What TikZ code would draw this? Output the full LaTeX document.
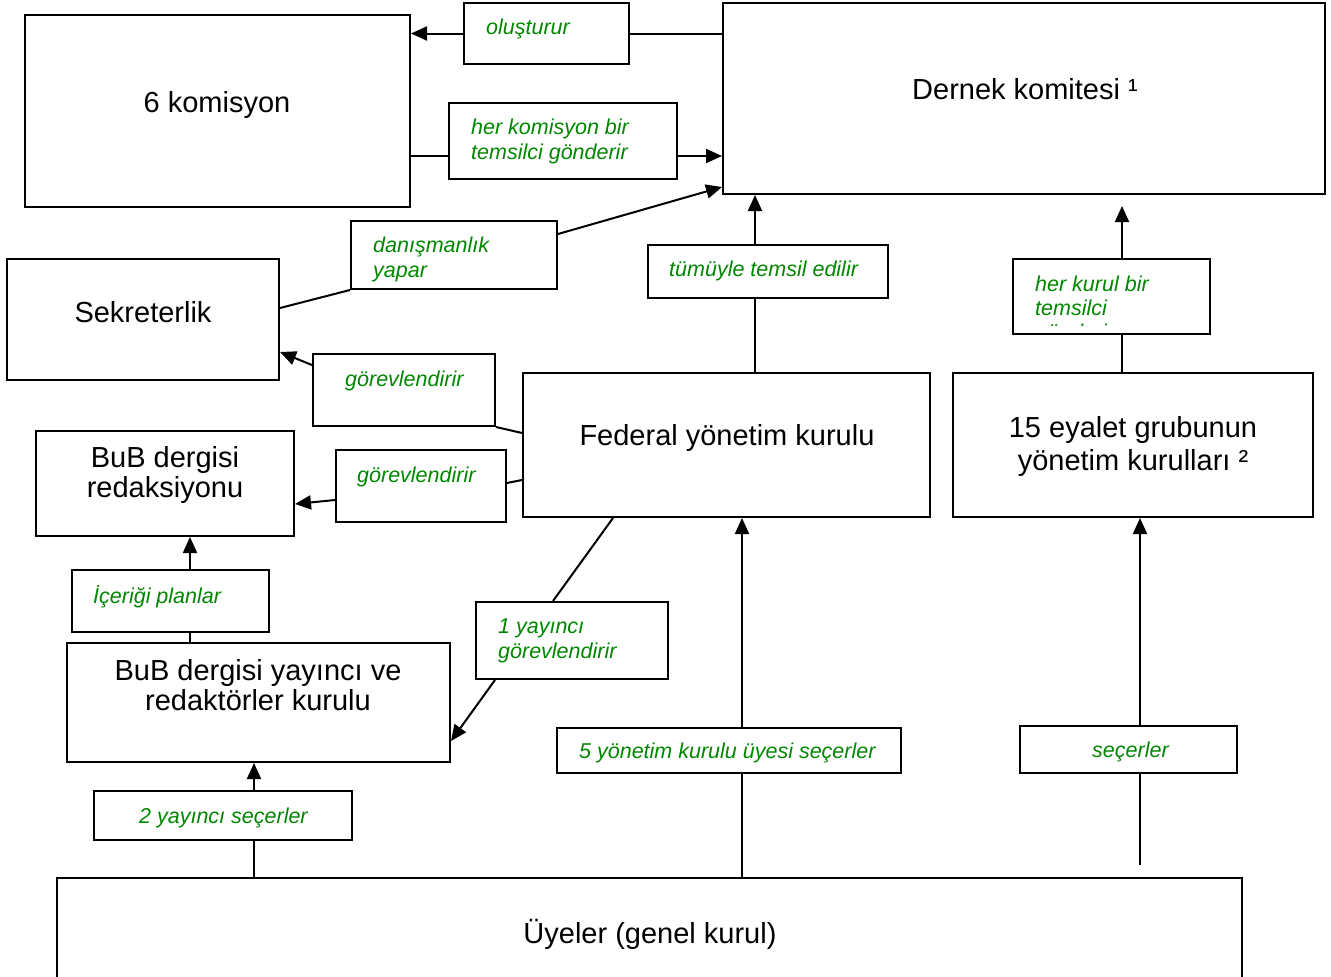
\documentclass[tikz,border=0pt]{standalone}
\usepackage{fontspec}
\setmainfont{Liberation Sans}
\usetikzlibrary{arrows.meta,calc}
\definecolor{lblgreen}{RGB}{0,135,0}
\begin{document}
\begin{tikzpicture}[x=1pt,y=-1pt,
 box/.style={draw,line width=2pt,inner sep=0pt,rectangle},
 main/.style={font=\fontsize{29}{31}\selectfont,align=center,inner sep=0pt,yshift=-3pt},
 lbl/.style={font=\fontsize{21.5}{25}\selectfont\itshape,text=lblgreen,align=left,anchor=west,inner sep=0pt,yshift=-2pt},
 conn/.style={line width=2pt},
 arr/.style={conn,-{Triangle[length=16pt,width=14pt]}}]
\useasboundingbox (0,0) rectangle (1331,977);
% boxes
\node[box,minimum width=385pt,minimum height=192pt] (kom) at (217.5,111) {};
\node[box,minimum width=165pt,minimum height=61pt] (olus) at (546.5,33.5) {};
\node[box,minimum width=602pt,minimum height=191pt] (dernek) at (1024,98.5) {};
\node[box,minimum width=228pt,minimum height=76pt] (herkom) at (563,141) {};
\node[box,minimum width=272pt,minimum height=121pt] (sek) at (143,319.5) {};
\node[box,minimum width=206pt,minimum height=68pt] (danis) at (454,255) {};
\node[box,minimum width=182pt,minimum height=72pt] (gor1) at (404,390) {};
\node[box,minimum width=407pt,minimum height=144pt] (fed) at (726.5,445) {};
\node[box,minimum width=360pt,minimum height=144pt] (eyalet) at (1133,445) {};
\node[box,minimum width=258pt,minimum height=105pt] (bubred) at (165,483.5) {};
\node[box,minimum width=170pt,minimum height=72pt] (gor2) at (421,486) {};
\node[box,minimum width=197pt,minimum height=62pt] (icerik) at (170.5,601) {};
\node[box,minimum width=383pt,minimum height=119pt] (bubyay) at (258.5,702.5) {};
\node[box,minimum width=192pt,minimum height=77pt] (yay1) at (572,640.5) {};
\node[box,minimum width=240pt,minimum height=53pt] (tumu) at (768,271.5) {};
\node[box,minimum width=197pt,minimum height=75pt] (herkur) at (1111.5,296.5) {};
\node[box,minimum width=344pt,minimum height=45pt] (yon5) at (729,750.5) {};
\node[box,minimum width=217pt,minimum height=47pt] (secer) at (1128.5,749.5) {};
\node[box,minimum width=258pt,minimum height=49pt] (yay2) at (223,815.5) {};
\node[box,minimum width=1185pt,minimum height=117pt] (uye) at (649.5,936.5) {};
% texts
\node[main] (t1) at (217,102) {6 komisyon};
\node[lbl] (t2) at (486,27) {oluşturur};
\node[main] (t3) at (1025,86) {Dernek komitesi ¹};
\node[lbl] (t4) at (471,139.5) {her komisyon bir\\temsilci gönderir};
\node[main] (t5) at (143,309) {Sekreterlik};
\node[lbl] (t6) at (373,257) {danışmanlık\\yapar};
\node[lbl] (t7) at (345,379) {görevlendirir};
\node[main] (t8) at (727,435) {Federal yönetim kurulu};
\node[main,font=\fontsize{29}{33}\selectfont] (t9) at (1133,443.5) {15 eyalet grubunun\\yönetim kurulları ²};
\node[main,font=\fontsize{29}{30}\selectfont] (t10) at (165,472) {BuB dergisi\\redaksiyonu};
\node[lbl] (t11) at (357,475) {görevlendirir};
\node[lbl] (t12) at (93,595) {İçeriği planlar};
\node[main,font=\fontsize{29}{30}\selectfont] (t13) at (258,682) {BuB dergisi yayıncı ve\\redaktörler kurulu};
\node[lbl] (t14) at (498,638.5) {1 yayıncı\\görevlendirir};
\node[lbl] (t15) at (669,269) {tümüyle temsil edilir};
\begin{scope}
\clip (1015,261) rectangle (1208,325);
\node[lbl,anchor=north west,yshift=0pt,font=\fontsize{21.5}{24}\selectfont\itshape] (t16) at (1035,274) {her kurul bir\\temsilci\\gönderir};
\end{scope}
\node[lbl] (t17) at (579,751) {5 yönetim kurulu üyesi seçerler};
\node[lbl] (t18) at (1092,750) {seçerler};
\node[lbl] (t19) at (139,816) {2 yayıncı seçerler};
\node[main] (t20) at (650,931) {Üyeler (genel kurul)};
% connectors
\draw[conn] (dernek.west |- olus.east) -- (olus.east);
\draw[arr] (olus.west) -- (kom.east |- olus.west);
\draw[conn] (kom.east |- 0,156) -- (herkom.west |- 0,156);
\draw[arr] (herkom.east |- 0,156) -- (dernek.west |- 0,156);
\draw[conn] (sek.east |- 0,308) -- (danis.south west);
\draw[arr] (danis.east |- 0,234) -- (dernek.west |- 0,187);
\draw[conn] (fed.west |- 0,433) -- (gor1.south east);
\draw[arr] (gor1.west |- 0,365) -- (sek.east |- 0,352);
\draw[conn] (fed.west |- 0,480) -- (gor2.east |- 0,483);
\draw[arr] (gor2.west |- 0,500) -- (bubred.east |- 0,504);
\draw[conn] (bubyay.north -| 190,0) -- (icerik.south -| 190,0);
\draw[arr] (icerik.north -| 190,0) -- (bubred.south -| 190,0);
\draw[conn] (fed.south -| 613,0) -- (yay1.north -| 553,0);
\draw[arr] (yay1.south -| 495,0) -- (bubyay.east |- 0,741);
\draw[conn] (fed.north -| 755,0) -- (tumu.south -| 755,0);
\draw[arr] (tumu.north -| 755,0) -- (dernek.south -| 755,0);
\draw[conn] (eyalet.north -| 1122,0) -- (herkur.south -| 1122,0);
\coordinate (tipE) at (1122,206);
\draw[arr] (herkur.north -| 1122,0) -- (tipE);
\draw[conn] (uye.north -| 742,0) -- (yon5.south -| 742,0);
\draw[arr] (yon5.north -| 742,0) -- (fed.south -| 742,0);
\coordinate (startS) at (1140,865);
\draw[conn] (startS) -- (secer.south -| 1140,0);
\draw[arr] (secer.north -| 1140,0) -- (eyalet.south -| 1140,0);
\draw[conn] (uye.north -| 254,0) -- (yay2.south -| 254,0);
\draw[arr] (yay2.north -| 254,0) -- (bubyay.south -| 254,0);
\end{tikzpicture}
\end{document}
